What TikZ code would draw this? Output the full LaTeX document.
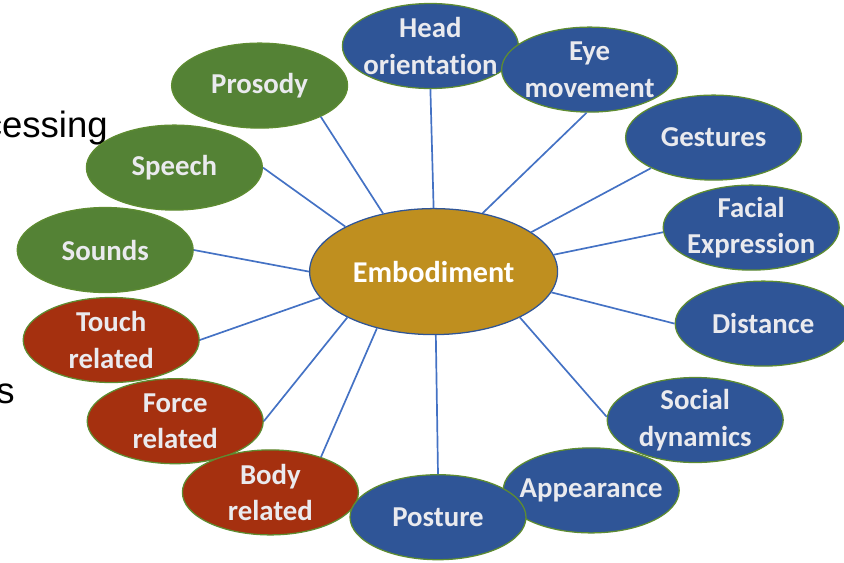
\documentclass[tikz,border=0pt]{standalone}
\usepackage{fontspec}
\setmainfont{Carlito}[Ligatures=NoCommon]
\newfontfamily\slidefont{Liberation Sans}
\usetikzlibrary{shapes,positioning}
\definecolor{bubbleblue}{HTML}{2F5597}
\definecolor{bubblegreen}{HTML}{548235}
\definecolor{bubblered}{HTML}{A5300F}
\definecolor{bubblegold}{HTML}{BF8F1F}
\definecolor{rimgreen}{HTML}{5E8C31}
\definecolor{linkblue}{HTML}{4472C4}
\definecolor{labelgrey}{HTML}{EAEAEE}
\tikzset{
    semithick,
    bubble/.style ={ellipse, draw=rimgreen, line width=0.9pt, minimum width=4.4cm, minimum height=2.125cm,
        inner xsep=-0.4cm, inner ysep=-0.3cm, align=center, text=labelgrey,
        font=\fontsize{20.5}{26}\selectfont\bfseries},
    verbal/.style = {bubble, fill=bubblegreen},
    contact/.style = {bubble, fill=bubblered},
    visual/.style = {bubble, fill=bubbleblue},
    core/.style = {bubble, fill=bubblegold, draw=bubbleblue, minimum width=6.2cm, minimum height=3.15cm,
        text=white, font=\fontsize{21.5}{26}\selectfont\bfseries},
    link/.style = {draw=linkblue, line width=1.2pt},
    cut/.style = {font=\slidefont\fontsize{26}{30}\selectfont, inner sep=0pt, anchor=base east}
}

\begin{document}
\begin{tikzpicture}
    \useasboundingbox (0,0) rectangle (21.1,-14.05);

    % text left over from the slide behind
    \node (slideA) at (2.7,-3.425) [cut] {cessing};
    \node (slideB) at (0.375,-10.08) [cut] {s};

    \node (prosody) at (6.49,-2.14) [verbal] {Prosody};
    \node (speech) at (4.36,-4.19) [verbal] {Speech};
    \node (sounds) at (2.63,-6.25) [verbal] {Sounds};
    \node (touch) at (2.78,-8.5) [contact] {Touch\\related};
    \node (force) at (4.38,-10.53) [contact] {Force\\related};
    \node (body) at (6.76,-12.31) [contact] {Body\\related};
    \node (appear) at (14.78,-12.26) [visual] {Appearance};
    \node (posture) at (10.95,-12.93) [visual] {Posture};
    \node (social) at (17.38,-10.5) [visual] {Social\\dynamics};
    \node (dist) at (19.08,-8.09) [visual] {Distance};
    \node (facial) at (18.78,-5.69) [visual] {Facial\\Expression};
    \node (gest) at (17.84,-3.44) [visual] {Gestures};
    \node (head) at (10.76,-1.15) [visual] {Head\\orientation};
    \node (eye) at (14.74,-1.74) [visual] {Eye\\movement};
    \node (emb) at (10.84,-6.79) [core] {Embodiment};

    \path (emb.90) edge[link] (head.-90);
    \path (emb.50) edge[link] (eye.-94);
    \path (emb.22) edge[link] (gest.-154);
    \path (emb.8) edge[link] (facial.183);
    \path (emb.-10) edge[link] (dist.180);
    \path (emb.-28) edge[link] (social.178);
    \path (emb.-88) edge[link] (posture.90);
    \path (emb.-135) edge[link] (body.35);
    \path (emb.-152) edge[link] (force.0);
    \path (emb.-167) edge[link] (touch.0);
    \path (emb.180) edge[link] (sounds.0);
    \path (emb.153) edge[link] (speech.0);
    \path (emb.131) edge[link] (prosody.-27);
\end{tikzpicture}
\end{document}
